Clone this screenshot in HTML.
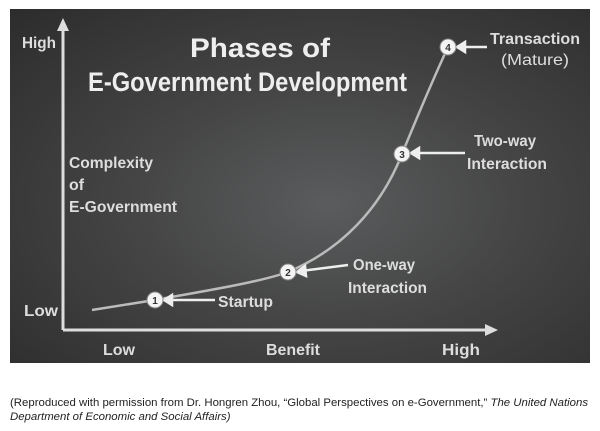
<!DOCTYPE html>
<html><head><style>
body{margin:0;background:#fff;width:600px;height:431px;overflow:hidden;font-family:"Liberation Sans",sans-serif}
.board{position:absolute;left:10px;top:9px;width:580px;height:354px;background:radial-gradient(ellipse at 55% 55%,#5a5c5d 0%,#444 45%,#2c2c2c 100%)}
.cap{position:absolute;left:10px;top:396px;font-size:11.4px;color:#222;line-height:14px;white-space:nowrap}
</style></head><body>
<div class="board"></div>
<svg width="600" height="431" style="position:absolute;left:0;top:0" font-family="Liberation Sans, sans-serif" font-weight="bold" fill="#e8e8e8">
<g stroke="#ddd" stroke-width="3" fill="none">
<line x1="63" y1="330" x2="63" y2="28"/>
<line x1="63" y1="330" x2="490" y2="330"/>
</g>
<polygon points="63,18 57,31 69,31" fill="#ddd"/>
<polygon points="498,330 485,324 485,336" fill="#ddd"/>
<path d="M92,310 L155,300 C210,290 260,282 288,272 C340,250 380,210 402,154 C420,110 435,75 448,47" stroke="#bbb" stroke-width="2.5" fill="none"/>
<g stroke="#eee" stroke-width="2.5" fill="#eee">
<line x1="168" y1="300" x2="215" y2="300"/><polygon points="164,300 172,295 172,305"/>
<line x1="301" y1="271" x2="348" y2="265"/><polygon points="297,272 305,266 306,276"/>
<line x1="415" y1="153" x2="465" y2="153"/><polygon points="411,153 419,148 419,158"/>
<line x1="461" y1="47" x2="487" y2="47"/><polygon points="457,47 465,42 465,52"/>
</g>
<g fill="#f4f4f4" stroke="#888" stroke-width="1">
<circle cx="155" cy="300" r="8"/><circle cx="288" cy="272" r="8"/><circle cx="402" cy="154" r="8"/><circle cx="448" cy="47" r="8"/>
</g>
<g fill="#333" font-size="10" text-anchor="middle">
<text x="155" y="304">1</text><text x="288" y="276">2</text><text x="402" y="158">3</text><text x="448" y="51">4</text>
</g>
<g font-size="16" fill="#ddd" lengthAdjust="spacingAndGlyphs">
<text x="22" y="48" textLength="34" lengthAdjust="spacingAndGlyphs">High</text>
<text x="24" y="316" textLength="34" lengthAdjust="spacingAndGlyphs">Low</text>
<text x="103" y="355" textLength="32" lengthAdjust="spacingAndGlyphs">Low</text>
<text x="266" y="355" textLength="54" lengthAdjust="spacingAndGlyphs">Benefit</text>
<text x="442" y="355" textLength="38" lengthAdjust="spacingAndGlyphs">High</text>
<text x="69" y="168" textLength="84" lengthAdjust="spacingAndGlyphs">Complexity</text>
<text x="69" y="190" textLength="15" lengthAdjust="spacingAndGlyphs">of</text>
<text x="69" y="212" textLength="108" lengthAdjust="spacingAndGlyphs">E-Government</text>
<text x="218" y="307" textLength="55" lengthAdjust="spacingAndGlyphs">Startup</text>
<text x="353" y="270" textLength="62" lengthAdjust="spacingAndGlyphs">One-way</text>
<text x="348" y="293" textLength="79" lengthAdjust="spacingAndGlyphs">Interaction</text>
<text x="474" y="146" textLength="62" lengthAdjust="spacingAndGlyphs">Two-way</text>
<text x="467" y="169" textLength="80" lengthAdjust="spacingAndGlyphs">Interaction</text>
<text x="490" y="44" textLength="90" lengthAdjust="spacingAndGlyphs">Transaction</text>
<text x="501" y="65" font-weight="normal" textLength="68" lengthAdjust="spacingAndGlyphs">(Mature)</text>
</g>
<g font-size="27" fill="#eee">
<text x="190" y="57" textLength="140" lengthAdjust="spacingAndGlyphs">Phases of</text>
<text x="88" y="91" textLength="319" lengthAdjust="spacingAndGlyphs">E-Government Development</text>
</g>
</svg>
<div class="cap">(Reproduced with permission from Dr. Hongren Zhou, “Global Perspectives on e-Government,” <i>The United Nations</i><br><i>Department of Economic and Social Affairs)</i></div>
</body></html>
